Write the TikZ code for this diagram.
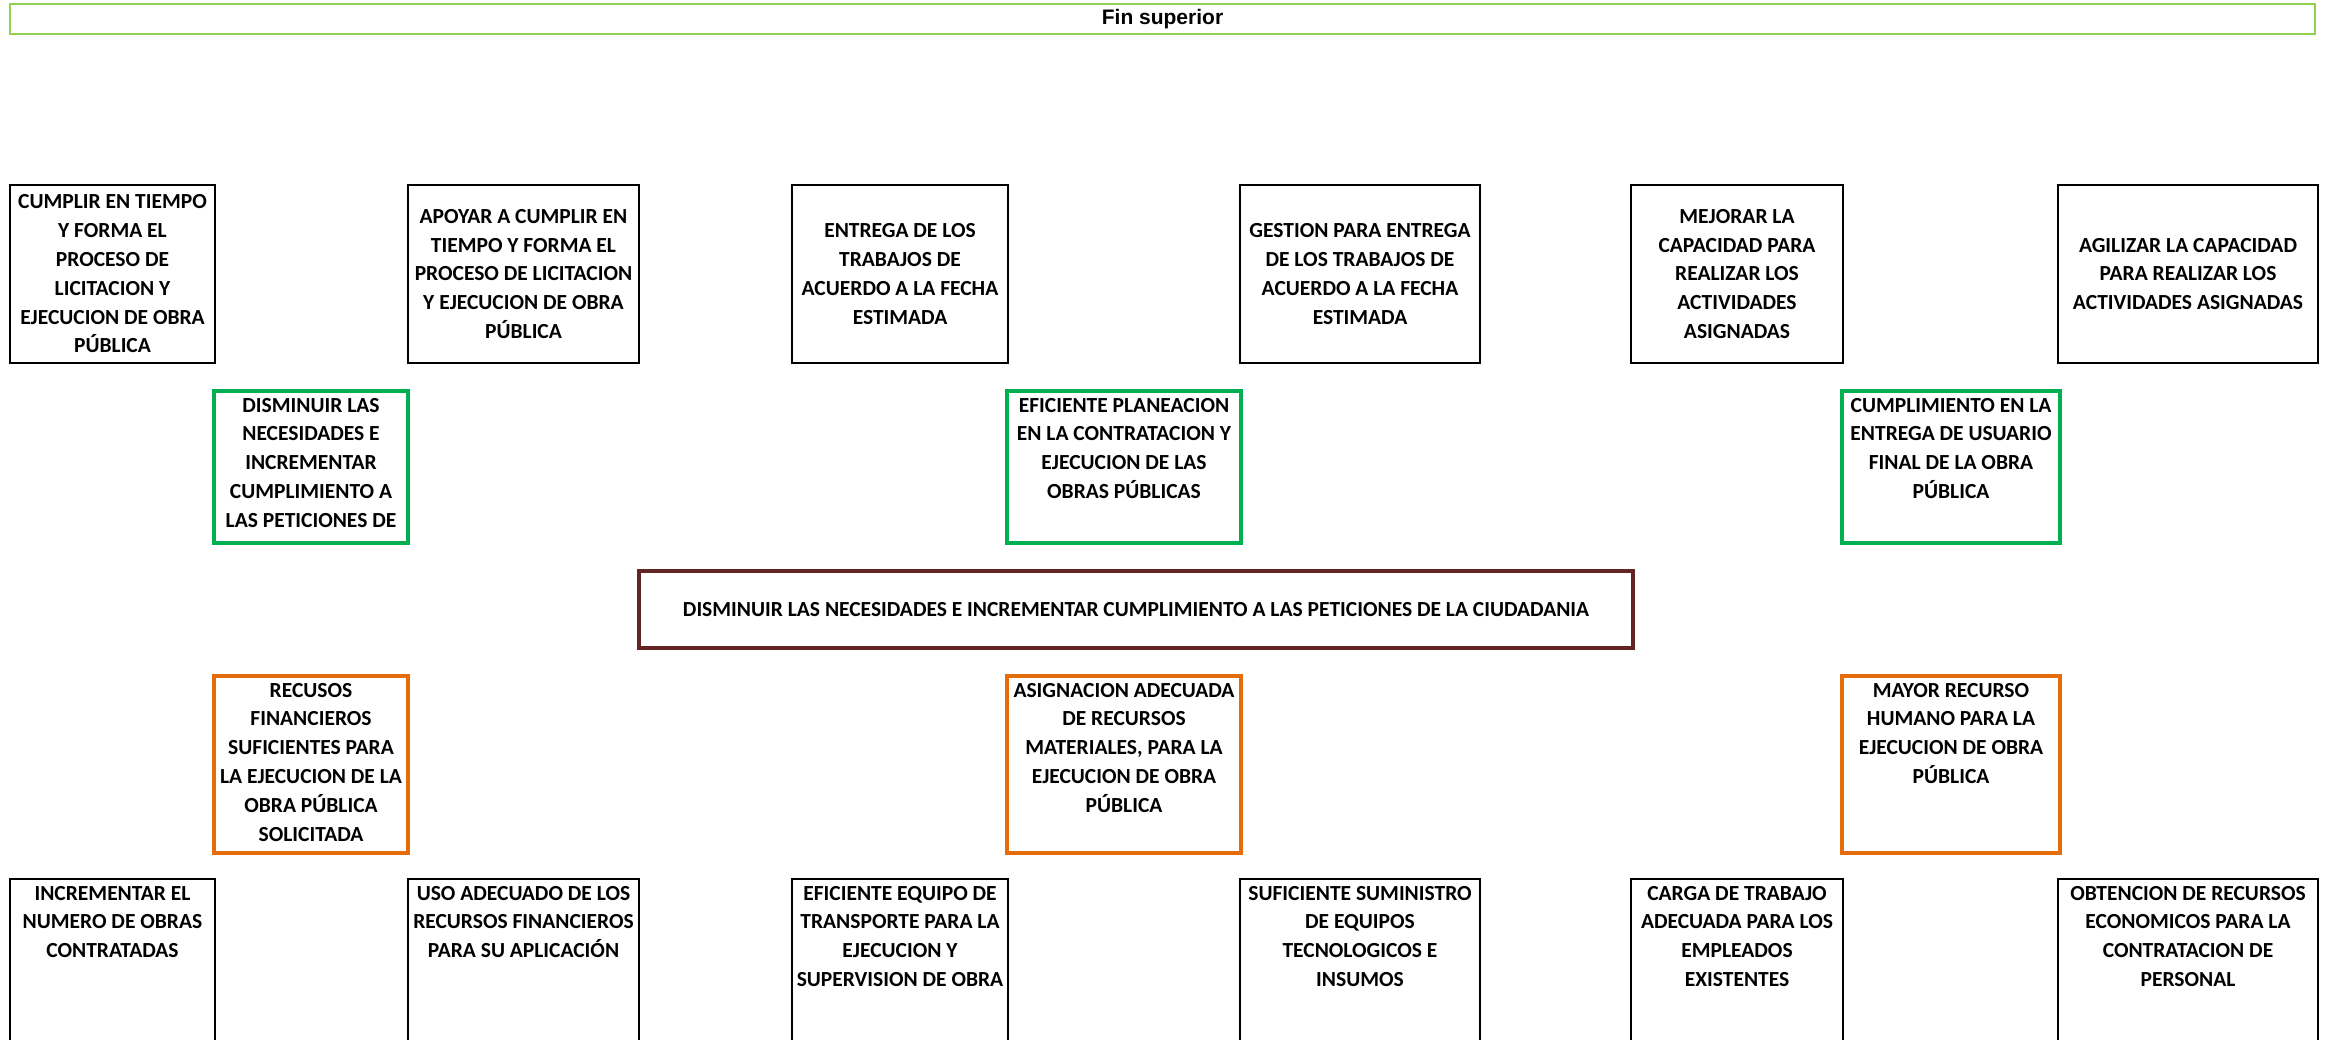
\documentclass[tikz,border=0pt]{standalone}
\usepackage{fontspec}
\setmainfont{Carlito}
\newfontfamily\arialfont{Liberation Sans}
\definecolor{verdeclaro}{HTML}{92D050}
\definecolor{verdeobj}{HTML}{00B050}
\definecolor{vino}{HTML}{632523}
\definecolor{naranja}{HTML}{E46C0A}
\newcommand{\arriba}[3]{\parbox[c][#2pt][t]{#1pt}{\centering\rule{0pt}{21pt}#3}}
\newcommand{\centro}[3]{\parbox[c][#2pt][c]{#1pt}{\centering #3}}
\tikzset{
	caja/.style={draw, line width=2.5pt, inner sep=0pt, align=center,
		font=\fontsize{21.5}{28.8}\selectfont\bfseries},
	objetivo/.style={caja, draw=verdeobj, line width=4pt},
	problema/.style={caja, draw=vino, line width=4pt},
	medio/.style={caja, draw=naranja, line width=4pt}
}
\begin{document}
\begin{tikzpicture}[x=1pt,y=-1pt]
\useasboundingbox (0,0) rectangle (2325,1039);
\clip (0,0) rectangle (2325,1039);
	\node[draw=verdeclaro, line width=2pt, minimum width=2305pt, minimum height=30pt, inner sep=0pt,
		font=\arialfont\bfseries\fontsize{21}{24}\selectfont] (titulo) at (1162.5,19) {Fin superior};

	\node[caja] (f1) at (112.5,274) {\centro{205}{178}{CUMPLIR EN TIEMPO\\Y FORMA EL\\PROCESO DE\\LICITACION Y\\EJECUCION DE OBRA\\PÚBLICA}};
	\node[caja] (f2) at (523.5,274) {\centro{231}{178}{APOYAR A CUMPLIR EN\\TIEMPO Y FORMA EL\\PROCESO DE LICITACION\\Y EJECUCION DE OBRA\\PÚBLICA}};
	\node[caja] (f3) at (900,274) {\centro{216}{178}{ENTREGA DE LOS\\TRABAJOS DE\\ACUERDO A LA FECHA\\ESTIMADA}};
	\node[caja] (f4) at (1360,274) {\centro{240}{178}{GESTION PARA ENTREGA\\DE LOS TRABAJOS DE\\ACUERDO A LA FECHA\\ESTIMADA}};
	\node[caja] (f5) at (1737,274) {\centro{212}{178}{MEJORAR LA\\CAPACIDAD PARA\\REALIZAR LOS\\ACTIVIDADES\\ASIGNADAS}};
	\node[caja] (f6) at (2188,274) {\centro{260}{178}{AGILIZAR LA CAPACIDAD\\PARA REALIZAR LOS\\ACTIVIDADES ASIGNADAS}};

	\node[objetivo] (o1) at (311,467) {\arriba{194}{152}{DISMINUIR LAS\\NECESIDADES E\\INCREMENTAR\\CUMPLIMIENTO A\\LAS PETICIONES DE}};
	\node[objetivo] (o2) at (1124,467) {\arriba{234}{152}{EFICIENTE PLANEACION\\EN LA CONTRATACION Y\\EJECUCION DE LAS\\OBRAS PÚBLICAS}};
	\node[objetivo] (o3) at (1951,467) {\arriba{218}{152}{CUMPLIMIENTO EN LA\\ENTREGA DE USUARIO\\FINAL DE LA OBRA\\PÚBLICA}};

	\node[problema, minimum width=994pt, minimum height=77pt] (central) at (1136,609.5)
		{DISMINUIR LAS NECESIDADES E INCREMENTAR CUMPLIMIENTO A LAS PETICIONES DE LA CIUDADANIA};

	\node[medio] (m1) at (311,764.5) {\arriba{194}{177}{RECUSOS\\FINANCIEROS\\SUFICIENTES PARA\\LA EJECUCION DE LA\\OBRA PÚBLICA\\SOLICITADA}};
	\node[medio] (m2) at (1124,764.5) {\arriba{234}{177}{ASIGNACION ADECUADA\\DE RECURSOS\\MATERIALES, PARA LA\\EJECUCION DE OBRA\\PÚBLICA}};
	\node[medio] (m3) at (1951,764.5) {\arriba{218}{177}{MAYOR RECURSO\\HUMANO PARA LA\\EJECUCION DE OBRA\\PÚBLICA}};

	\node[caja] (a1) at (112.5,968) {\arriba{205}{178}{INCREMENTAR EL\\NUMERO DE OBRAS\\CONTRATADAS}};
	\node[caja] (a2) at (523.5,968) {\arriba{231}{178}{USO ADECUADO DE LOS\\RECURSOS FINANCIEROS\\PARA SU APLICACIÓN}};
	\node[caja] (a3) at (900,968) {\arriba{216}{178}{EFICIENTE EQUIPO DE\\TRANSPORTE PARA LA\\EJECUCION Y\\SUPERVISION DE OBRA}};
	\node[caja] (a4) at (1360,968) {\arriba{240}{178}{SUFICIENTE SUMINISTRO\\DE EQUIPOS\\TECNOLOGICOS E\\INSUMOS}};
	\node[caja] (a5) at (1737,968) {\arriba{212}{178}{CARGA DE TRABAJO\\ADECUADA PARA LOS\\EMPLEADOS\\EXISTENTES}};
	\node[caja] (a6) at (2188,968) {\arriba{260}{178}{OBTENCION DE RECURSOS\\ECONOMICOS PARA LA\\CONTRATACION DE\\PERSONAL}};
\end{tikzpicture}
\end{document}
